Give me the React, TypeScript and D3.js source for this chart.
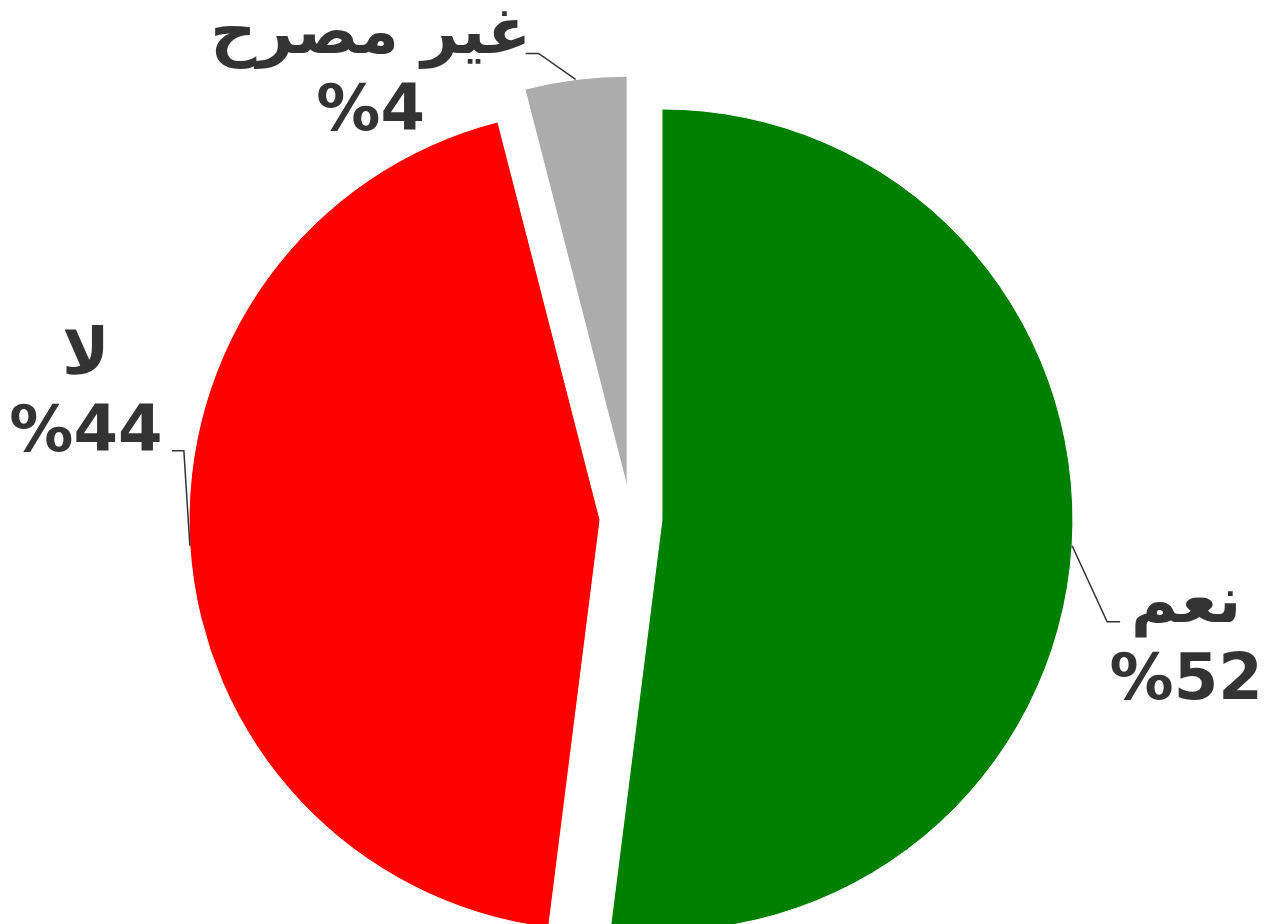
import React from "react";
import * as d3 from "d3";

// chart data
const categories = ["نعم", "لا", "غير مصرح"];
const values = [52, 44, 4];
const colors = ["#008000", "#ff0000", "#acacac"];

// label placement: elbow offset from arc anchor, then horizontal run, then text offset
const labelLayout = [
  { elbow: [35, 76], run: 13, text: [66, 0] },
  { elbow: [-6, -95], run: -12, text: [-86, -77] },
  { elbow: [-37, -26], run: -13, text: [-155, -1] },
];

const width = 1270;
const height = 924;
const cx = 631;
const cy = 518;
const radius = 411;
const explode = 31;
const fontSize = 64;
const lineGap = 77;

export default function App() {
  const pie = d3
    .pie<number>()
    .sort(null)
    .value((d) => d);
  const arcs = pie(values);
  const arc = d3.arc<d3.PieArcDatum<number>>().innerRadius(0).outerRadius(radius);

  return (
    <svg
      width={width}
      height={height}
      style={{ position: "absolute", left: 0, top: 0, background: "#fff" }}
    >
      <g transform={`translate(${cx},${cy})`}>
        {arcs.map((a, i) => {
          const mid = (a.startAngle + a.endAngle) / 2;
          const ox = explode * Math.sin(mid);
          const oy = -explode * Math.cos(mid);
          return (
            <path
              key={"s" + i}
              d={arc(a) || ""}
              transform={`translate(${ox},${oy})`}
              fill={colors[i]}
              stroke="#fff"
              strokeWidth={1}
            />
          );
        })}
        {arcs.map((a, i) => {
          const mid = (a.startAngle + a.endAngle) / 2;
          const ox = explode * Math.sin(mid);
          const oy = -explode * Math.cos(mid);
          const ax = ox + radius * Math.sin(mid);
          const ay = oy - radius * Math.cos(mid);
          const L = labelLayout[i];
          const ex = ax + L.elbow[0];
          const ey = ay + L.elbow[1];
          const tx = ex + L.run;
          const ty = ey;
          const lx = tx + L.text[0];
          const ly = ty + L.text[1];
          return (
            <g key={"l" + i}>
              <path
                d={`M${ax},${ay}L${ex},${ey}L${tx},${ty}`}
                fill="none"
                stroke="#333"
                strokeWidth={1.5}
              />
              <text
                x={lx}
                y={ly}
                textAnchor="middle"
                fontFamily="DejaVu Sans"
                fontWeight="bold"
                fontSize={fontSize}
                fill="#333"
              >
                {categories[i]}
              </text>
              <text
                x={lx}
                y={ly + lineGap}
                textAnchor="middle"
                fontFamily="DejaVu Sans"
                fontWeight="bold"
                fontSize={fontSize}
                fill="#333"
              >
                {"%" + values[i]}
              </text>
            </g>
          );
        })}
      </g>
    </svg>
  );
}
